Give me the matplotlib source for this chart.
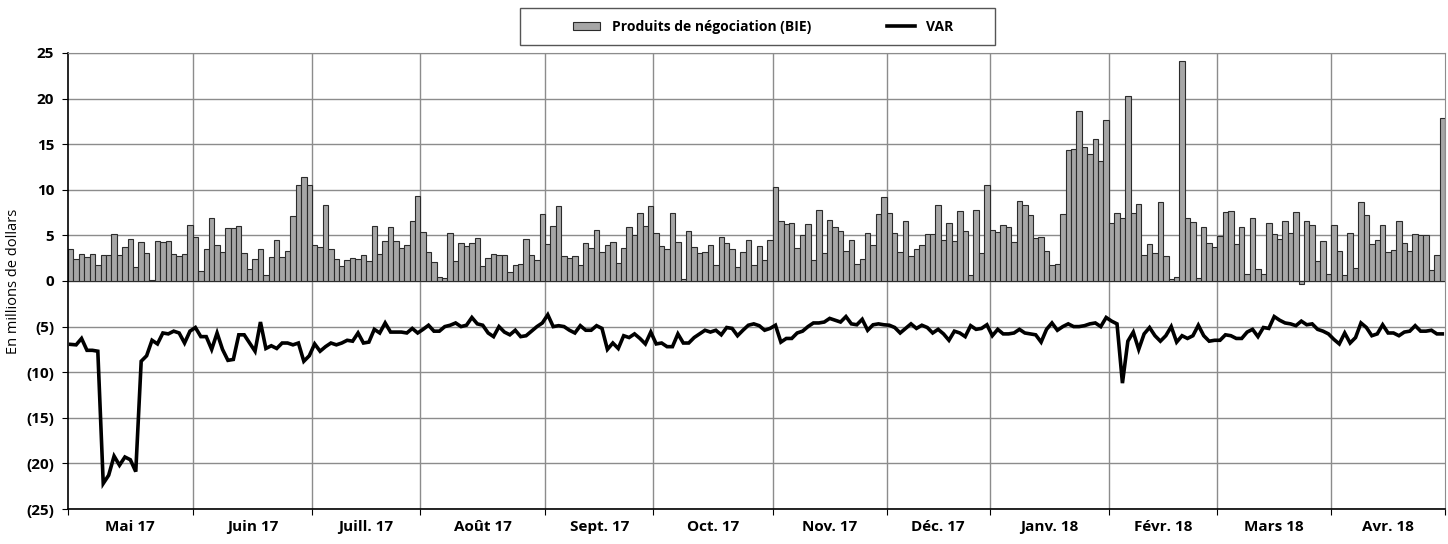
import matplotlib
matplotlib.use('Agg')
import matplotlib.pyplot as plt
import matplotlib.ticker as mticker
from matplotlib.patches import Rectangle
import numpy as np

plt.rcParams['font.family'] = ['Open Sans', 'DejaVu Sans']

# Trading days per month (May 2017 - April 2018) and labels
months = ['Mai 17', 'Juin 17', 'Juill. 17', 'Août 17', 'Sept. 17', 'Oct. 17',
          'Nov. 17', 'Déc. 17', 'Janv. 18', 'Févr. 18', 'Mars 18', 'Avr. 18']
month_days = [23, 22, 20, 23, 20, 22, 21, 19, 22, 20, 21, 21]

# Daily trading revenue (BIE), millions of dollars
revenue = [
    # May
    3.5, 2.4, 3.0, 2.6, 3.0, 1.8, 2.8, 2.8, 5.1, 2.9, 3.7, 4.6, 1.5, 4.3, 3.1, 0.1,
    4.4, 4.3, 4.4, 3.0, 2.7, 3.0, 6.1,
    # June
    4.8, 1.1, 3.5, 6.9, 3.9, 3.2, 5.8, 5.8, 6.0, 3.1, 1.3, 2.4, 3.5, 0.7, 2.6, 4.5,
    2.6, 3.3, 7.1, 10.5, 11.4, 10.5,
    # July
    3.9, 3.75, 8.3, 3.5, 2.4, 1.6, 2.3, 2.5, 2.4, 2.8, 2.2, 6.0, 3.0, 4.4, 5.9, 4.4,
    3.6, 4.0, 6.6, 9.3,
    # August
    5.4, 3.2, 2.1, 0.4, 0.3, 5.3, 2.2, 4.2, 3.8, 4.2, 4.7, 1.6, 2.5, 3.0, 2.8, 2.8,
    1.0, 1.7, 1.9, 4.6, 2.9, 2.3, 7.4,
    # September
    4.1, 6.0, 8.2, 2.7, 2.5, 2.7, 1.8, 4.2, 3.6, 5.6, 3.2, 3.9, 4.3, 2.0, 3.6, 5.9,
    5.0, 7.5, 6.0, 8.2,
    # October
    5.3, 3.8, 3.5, 7.5, 4.3, 0.2, 5.5, 3.7, 3.1, 3.2, 3.9, 1.8, 4.8, 4.2, 3.5, 1.5,
    3.2, 4.5, 1.8, 3.8, 2.3, 4.5,
    # November
    10.3, 6.6, 6.2, 6.4, 3.6, 5.0, 6.3, 2.3, 7.8, 3.1, 6.7, 5.9, 5.5, 3.3, 4.5, 1.9,
    2.4, 5.3, 3.9, 7.3, 9.2,
    # December
    7.5, 5.3, 3.2, 6.6, 2.7, 3.5, 3.9, 5.2, 5.1, 8.3, 4.5, 6.4, 4.4, 7.7, 5.5, 0.7,
    7.8, 3.1, 10.5,
    # January
    5.6, 5.4, 6.1, 5.9, 4.3, 8.8, 8.3, 7.2, 4.7, 4.8, 3.3, 1.8, 1.9, 7.3, 14.4, 14.5,
    18.6, 14.7, 13.9, 15.6, 13.2, 17.7,
    # February
    6.4, 7.5, 6.9, 20.3, 7.5, 8.4, 2.8, 4.1, 3.1, 8.7, 2.7, 0.26, 0.4, 24.1, 6.9, 6.5,
    0.3, 5.9, 4.2, 3.7,
    # March
    4.9, 7.6, 7.7, 4.1, 5.9, 0.8, 6.9, 1.3, 0.8, 6.4, 5.1, 4.6, 6.6, 5.3, 7.6, -0.3,
    6.6, 6.1, 2.2, 4.4, 0.8,
    # April
    6.1, 3.3, 0.7, 5.3, 1.4, 8.7, 7.2, 4.1, 4.5, 6.1, 3.2, 3.4, 6.6, 4.2, 3.3, 5.1,
    5.0, 5.0, 1.2, 2.8, 17.9,
]

# Daily VAR, millions of dollars
var = [
    # May
    -6.95, -7.0, -6.3, -7.6, -7.6, -7.7, -22.2, -21.3, -19.2, -20.2, -19.3, -19.6,
    -20.9, -8.8, -8.2, -6.5, -6.9, -5.7, -5.8, -5.5, -5.7, -6.8, -5.5,
    # June
    -5.1, -6.1, -6.1, -7.5, -5.7, -7.5, -8.7, -8.6, -5.9, -5.9, -6.8, -7.7, -4.5,
    -7.4, -7.1, -7.4, -6.8, -6.8, -7.0, -6.8, -8.8, -8.2,
    # July
    -6.9, -7.7, -7.2, -6.8, -7.0, -6.8, -6.5, -6.6, -5.7, -6.8, -6.7, -5.3, -5.7,
    -4.6, -5.6, -5.6, -5.6, -5.7, -5.2, -5.7,
    # August
    -5.3, -4.85, -5.5, -5.5, -5.0, -4.85, -4.6, -5.0, -4.85, -4.0, -4.7, -4.85,
    -5.7, -6.1, -5.0, -5.6, -5.9, -5.4, -6.1, -6.0, -5.5, -5.0, -4.6,
    # September
    -3.7, -5.0, -4.9, -5.0, -5.4, -5.7, -4.9, -5.4, -5.4, -4.9, -5.2, -7.5, -6.8,
    -7.4, -6.0, -6.2, -5.8, -6.3, -6.9, -5.6,
    # October
    -6.9, -6.8, -7.2, -7.2, -5.8, -6.8, -6.8, -6.2, -5.8, -5.4, -5.6, -5.4, -5.9,
    -5.1, -5.2, -6.0, -5.4, -4.85, -4.7, -4.9, -5.4, -5.2,
    # November
    -4.85, -6.7, -6.3, -6.3, -5.7, -5.5, -5.0, -4.6, -4.6, -4.5, -4.1, -4.3, -4.5,
    -3.9, -4.7, -4.8, -4.2, -5.4, -4.8, -4.7, -4.8,
    # December
    -4.85, -5.1, -5.7, -5.2, -4.7, -5.2, -4.85, -5.1, -5.7, -5.3, -5.8, -6.5, -5.5,
    -5.7, -6.1, -4.9, -5.3, -5.2, -4.8,
    # January
    -6.0, -5.3, -5.8, -5.8, -5.7, -5.3, -5.7, -5.8, -5.9, -6.7, -5.3, -4.6, -5.4,
    -5.0, -4.7, -5.0, -5.0, -4.9, -4.7, -4.6, -5.0, -4.0,
    # February
    -4.4, -4.7, -11.2, -6.6, -5.6, -7.5, -5.8, -5.1, -6.0, -6.6, -6.0, -5.0, -6.7,
    -6.0, -6.3, -6.0, -4.85, -6.0, -6.6, -6.5,
    # March
    -6.5, -5.9, -6.0, -6.3, -6.3, -5.6, -5.3, -6.1, -5.1, -5.2, -3.9, -4.3, -4.6,
    -4.7, -4.9, -4.4, -4.8, -4.7, -5.3, -5.5, -5.8,
    # April
    -6.4, -6.9, -5.7, -6.8, -6.2, -4.6, -5.1, -6.0, -5.8, -4.8, -5.7, -5.7, -6.0,
    -5.6, -5.5, -4.9, -5.5, -5.5, -5.4, -5.8, -5.8,
]

n = len(revenue)
x = np.arange(n)
bounds = np.concatenate([[0], np.cumsum(month_days)]) - 0.5
centers = (bounds[:-1] + bounds[1:]) / 2

fig = plt.figure(figsize=(14.48, 5.44), dpi=100)
ax = fig.add_axes([68 / 1448, 1 - 509 / 544, 1377 / 1448, 456 / 544])

grid_c = '#8c8c8c'
for b in bounds[1:-1]:
    ax.axvline(b, color=grid_c, lw=1.0, zorder=0)
ax.yaxis.grid(True, color=grid_c, lw=1.0, zorder=0)
ax.set_axisbelow(True)

bars = ax.bar(x, revenue, width=1.0, color='#a6a6a6', edgecolor='#2b2b2b',
              linewidth=0.8, zorder=2, label='Produits de négociation (BIE)')
line, = ax.plot(x, var, color='black', lw=2.6, zorder=3, label='VAR',
                solid_joinstyle='miter')

ax.set_xlim(-0.5, n - 0.5)
ax.set_ylim(-25, 25)
ax.yaxis.set_major_locator(mticker.MultipleLocator(5))
ax.yaxis.set_major_formatter(mticker.FuncFormatter(
    lambda v, p: f'({abs(int(round(v)))})' if v < 0 else f'{int(round(v))}'))

ax.set_xticks(bounds)
ax.set_xticklabels([])
ax.set_xticks(centers, minor=True)
ax.set_xticklabels(months, minor=True)
ax.tick_params(axis='x', which='major', length=4, color='black')
ax.tick_params(axis='x', which='minor', length=0, pad=8)
ax.tick_params(axis='y', length=4, pad=6)
for lab in ax.get_xticklabels(minor=True) + ax.get_yticklabels():
    lab.set_fontweight('bold')
    lab.set_fontsize(11)

for s in ['top', 'right']:
    ax.spines[s].set_color(grid_c)
for s in ['left', 'bottom']:
    ax.spines[s].set_color('black')
    ax.spines[s].set_linewidth(1.2)

ax.set_ylabel('En millions de dollars', fontsize=10.5, labelpad=4)

# legend box drawn separately so the padding can be wider than the entries
fig.patches.append(Rectangle((520 / 1448, 1 - 45 / 544), 475 / 1448, 37 / 544,
                             transform=fig.transFigure, fill=False,
                             edgecolor='#555555', lw=1.0))
leg = fig.legend(handles=[bars, line], loc='center', ncol=2,
                 bbox_to_anchor=(763 / 1448, 1 - 27 / 544),
                 frameon=False, handlelength=2.0, handleheight=0.55,
                 handletextpad=0.8, columnspacing=5.5,
                 prop={'weight': 'bold', 'size': 10})

fig.savefig('out.png', dpi=100)
